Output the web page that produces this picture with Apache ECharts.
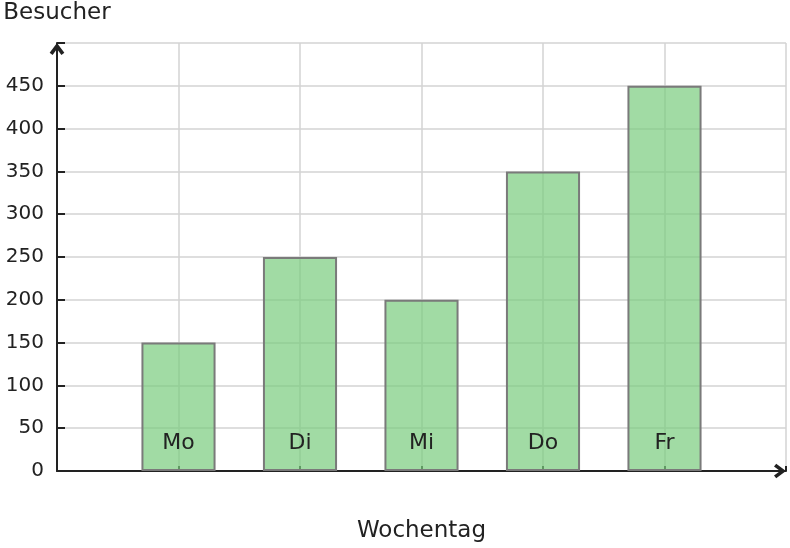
<!DOCTYPE html>
<html>
<head>
<meta charset="utf-8">
<script src="https://cdn.jsdelivr.net/npm/echarts@6/dist/echarts.min.js"></script>
<style>
html,body{margin:0;padding:0;background:#fff;}
#chart{width:790px;height:548px;}
</style>
</head>
<body>
<div id="chart"></div>
<script>
const categories = ['Mo', 'Di', 'Mi', 'Do', 'Fr'];
const visitors = [150, 250, 200, 350, 450];
const yTicks = [0, 50, 100, 150, 200, 250, 300, 350, 400, 450];

// pad one empty slot on each side so bars sit at positions 1..5 of 0..6
const axisCats = [''].concat(categories, ['']);
const barData = [null].concat(visitors, [null]);

const FONT = 'DejaVu Sans';
const CHEVRON = 'path://M0,8 L6,0 L12,8 L9.6,9.8 L6,4.8 L2.4,9.8 Z';
const chart = echarts.init(document.getElementById('chart'), null, {renderer: 'canvas'});
chart.setOption({
  animation: false,
  backgroundColor: '#ffffff',
  textStyle: {fontFamily: FONT},
  grid: {left: 57, right: 4, top: 43, bottom: 77, containLabel: false},
  xAxis: [{
    type: 'category',
    data: axisCats,
    position: 'bottom',
    boundaryGap: false,
    name: 'Wochentag',
    nameLocation: 'middle',
    nameGap: 49,
    nameTextStyle: {fontSize: 23, color: '#222', fontFamily: FONT},
    axisLine: {show: true, symbol: ['none', CHEVRON], symbolSize: [15, 12], symbolOffset: [0, -6], lineStyle: {color: '#222', width: 2}},
    axisTick: {show: true, inside: true, length: 5, lineStyle: {color: '#222', width: 2}},
    axisLabel: {show: false},
    splitLine: {show: true, lineStyle: {color: '#d3d3d3', width: 1.5}}
  }, {
    type: 'category',
    data: axisCats,
    position: 'bottom',
    boundaryGap: false,
    z: 5,
    axisLine: {show: false},
    axisTick: {show: false},
    splitLine: {show: false},
    axisLabel: {inside: true, margin: 17, fontSize: 22, color: '#222', fontFamily: FONT}
  }],
  yAxis: {
    type: 'value',
    min: 0,
    max: 500,
    interval: 50,
    name: 'Besucher',
    nameLocation: 'end',
    nameGap: 18,
    nameTextStyle: {fontSize: 23, color: '#222', fontFamily: FONT},
    axisLine: {show: true, symbol: ['none', CHEVRON], symbolSize: [15, 12], symbolOffset: [0, -6], lineStyle: {color: '#222', width: 2}},
    axisTick: {show: true, inside: true, length: 8, lineStyle: {color: '#222', width: 2}},
    axisLabel: {
      margin: 13, fontSize: 20, color: '#222', fontFamily: FONT,
      formatter: function (v) { return yTicks.indexOf(v) >= 0 ? String(v) : ''; }
    },
    splitLine: {show: true, lineStyle: {color: '#d3d3d3', width: 1.5}}
  },
  series: [{
    type: 'bar',
    xAxisIndex: 0,
    data: barData,
    barWidth: '61%',
    itemStyle: {color: 'rgba(121,204,126,0.7)', borderColor: '#7a7a7a', borderWidth: 2}
  }]
});
</script>
</body>
</html>
